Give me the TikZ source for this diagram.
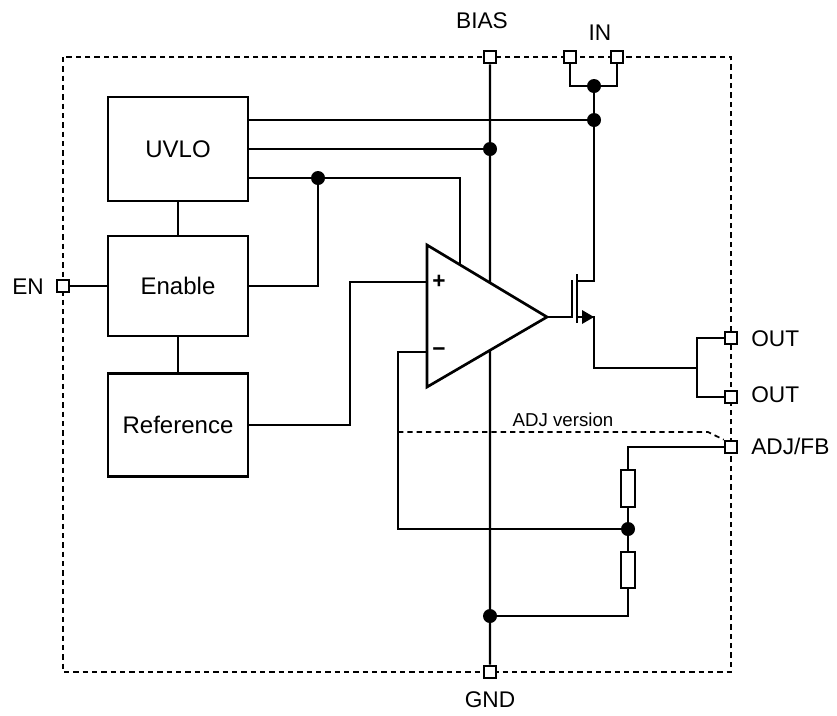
\documentclass[tikz,border=0pt]{standalone}
\usepackage{fontspec}
\setmainfont{Liberation Sans}
\usetikzlibrary{calc}
\tikzset{
	wire/.style={line width=1.8pt},
	blk/.style={draw, line width=2pt, minimum width=105pt, minimum height=77pt, font=\fontsize{18}{21}\selectfont},
	pin/.style={draw, fill=white, line width=1.5pt, minimum size=9.5pt, inner sep=0pt},
	dot/.style={circle, fill, minimum size=10.5pt, inner sep=0pt},
	res/.style={draw, line width=1.6pt, minimum width=10.5pt, minimum height=27.5pt, inner sep=0pt},
	lbl/.style={inner sep=0pt, font=\fontsize{17}{20}\selectfont},
	border/.style={line width=1.3pt, dash pattern=on 4pt off 3pt},
}
\begin{document}
\begin{tikzpicture}[x=0.75pt, y=-0.75pt]
	\useasboundingbox (0,0) rectangle (837,715);
	\draw[border] (63,57) rectangle (731,672);

	\node (uvlo) [blk, minimum height=78pt] at (178,149) {UVLO};
	\node (enable) [blk, minimum height=75pt] at (178,286) {Enable};
	\node (ref) [blk] at (178,425) {Reference};

	\coordinate (opt) at (427,245);
	\coordinate (opb) at (427,387);
	\coordinate (opo) at (547,317);
	\draw[line width=2pt] (opt) -- (opo) -- (opb) -- cycle;
	\node (plus) [lbl] at (439,282) {\textbf{+}};
	\node (minus) [lbl] at (439,352) {\textbf{−}};
	\coordinate (opsup) at ($(opt)!0.275!(opo)$);
	\coordinate (opbias) at ($(opt)!0.525!(opo)$);
	\coordinate (opgnd) at ($(opb)!0.525!(opo)$);

	\node (bias) [pin] at (490,57) {};
	\node (in1) [pin] at (570,57) {};
	\node (in2) [pin] at (617,57) {};
	\node (en) [pin] at (63,286) {};
	\node (out1) [pin] at (731,338) {};
	\node (out2) [pin] at (731,397) {};
	\node (adj) [pin] at (731,447) {};
	\node (gnd) [pin] at (490,672) {};

	\node (biaslbl) [lbl] at (482,21) {BIAS};
	\node (inlbl) [lbl] at (600,33) {IN};
	\node (enlbl) [lbl] at (28,287) {EN};
	\node (out1lbl) [lbl, anchor=west] at (751,339) {OUT};
	\node (out2lbl) [lbl, anchor=west] at (751,395) {OUT};
	\node (adjlbl) [lbl, anchor=west] at (751,446) {ADJ/FB};
	\node (gndlbl) [lbl] at (490,700) {GND};
	\node (adjver) [lbl, font=\fontsize{14}{16}\selectfont] at (563,420) {ADJ version};

	\node (jin) [dot] at (594,86) {};
	\node (jvin) [dot] at (594,120) {};
	\node (jbias) [dot] at (490,149) {};
	\node (jen) [dot] at (318,178) {};
	\node (jfb) [dot] at (628,529) {};
	\node (jgnd) [dot] at (490,616) {};

	\node (r1) [res] at (628,488.5) {};
	\node (r2) [res] at (628,570) {};

	\coordinate (gate) at (572,317);
	\coordinate (drain) at (594,281);
	\coordinate (source) at (594,317);
	\coordinate (osplit) at (697,368);
	\coordinate (plin) at (350,282);
	\coordinate (mi) at (398,352);
	\coordinate (adjv) at (708,432);

	\draw[wire] (uvlo) -- (enable);
	\draw[wire] (enable) -- (ref);
	\draw[wire] (en) -- (enable);
	\draw[wire] (uvlo.east |- jvin) -- (jvin);
	\draw[wire] (uvlo.east |- jbias) -- (jbias);
	\draw[wire] (uvlo.east |- jen) -- (jen) -| (opsup);
	\draw[wire] (jen) |- (enable.east);
	\draw[wire] (ref.east) -| (plin) -- (opt |- plin);
	\draw[wire] (opt |- mi) -- (mi) |- (jfb);

	\draw[wire] (bias) -- (opbias);
	\draw[wire] (gnd) -- (opgnd);
	\draw[wire] (in1) |- (jin) -| (in2);
	\draw[wire] (jin) -- (jvin) -- (drain) -- (577,281);

	\draw[wire] (opo) -- (gate) -- (572,280);
	\draw[wire] (577,274) -- (577,323);
	\draw[wire] (577,317) -- (source) |- (osplit);
	\fill (582,310) -- (source) -- (582,324) -- cycle;
	\draw[wire] (out1) -| (osplit) |- (out2);

	\draw[wire] (adj) -| (r1);
	\draw[wire] (r1) -- (jfb) -- (r2) |- (jgnd);
	\draw[border] (mi |- adjv) -- (adjv) -- (adj.north west);
\end{tikzpicture}
\end{document}
